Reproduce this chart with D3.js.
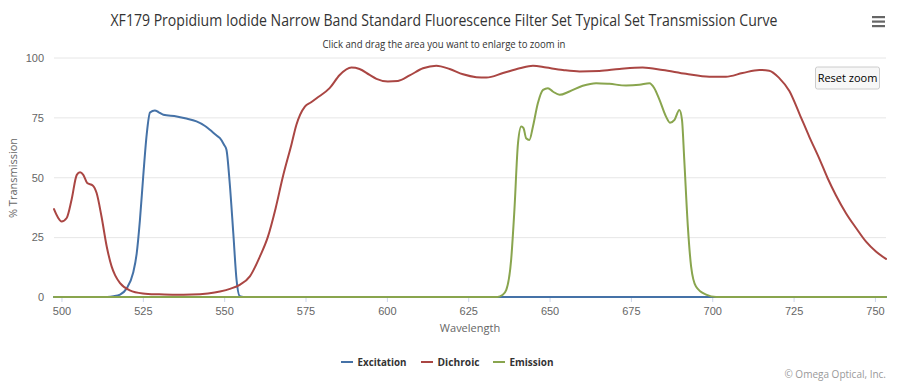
<!DOCTYPE html>
<html>
<head>
<meta charset="utf-8">
<script src="https://cdn.jsdelivr.net/npm/d3@7"></script>
<style>
  html, body { margin: 0; padding: 0; background: #fff; }
  svg { display: block; font-family: "Open Sans", "DejaVu Sans", sans-serif; }
</style>
</head>
<body>
<svg id="chart" width="909" height="382"></svg>
<script>
// ---- data ----
const xTicks = [500, 525, 550, 575, 600, 625, 650, 675, 700, 725, 750];
const yTicks = [0, 25, 50, 75, 100];
const seriesNames = ["Excitation", "Dichroic", "Emission"];
const seriesColors = ["#4572A7", "#AA4643", "#89A54E"];

const excitationNm = [497.7, 510, 514, 516, 518, 520, 522, 523.1, 524.1, 525.1, 526.2, 527.2, 528.7, 529.8, 531.3, 535.4, 538, 541.5, 544, 545.6, 547.5, 548.7, 550, 550.7, 551.7, 552.8, 553.8, 554.8, 556, 753.4];
const excitationT  = [0, 0, 0.05, 0.3, 1, 3.5, 10, 18, 32, 50, 68, 77, 77.9, 77.2, 76.1, 75.4, 74.6, 73.3, 71.5, 69.8, 67.6, 66.3, 63.5, 61.5, 47.6, 26.7, 7.2, 0.3, 0, 0];

const dichroicNm = [497.7, 499, 500, 501.6, 503.1, 504.7, 505.7, 506.7, 507.9, 509.6, 510.8, 512.3, 513.9, 515.4, 516.5, 518, 521, 525, 530, 535, 540, 545, 548.7, 552, 554.8, 557.9, 561, 563.4, 565.8, 568, 570.7, 572.2, 574.8, 576.6, 578.4, 582.4, 585.5, 589.1, 591.6, 594.7, 596.8, 600.3, 603.4, 607, 611.1, 615.2, 619.3, 623.4, 627.5, 630.6, 635.7, 640.8, 644.9, 649, 654.1, 659.2, 665.3, 671.5, 678.6, 684.8, 691.9, 699.1, 704.2, 709.3, 714.5, 717.5, 720.6, 723.7, 726.8, 729.8, 732.9, 735.4, 738, 741.1, 744.2, 747.2, 750.3, 753.4];
const dichroicT  = [36.7, 33, 31.5, 33, 40.6, 51, 52.1, 51, 47.6, 46.6, 43.4, 33.6, 21.1, 12.8, 9, 5.8, 2.8, 1.5, 1.1, 0.9, 1.0, 1.5, 2.3, 3.5, 5.1, 8.6, 17, 25, 37, 50, 63.8, 71.9, 79.5, 81.2, 83, 87.2, 92.7, 95.8, 95.2, 92.7, 91.1, 90, 90.2, 92.5, 95.5, 96.6, 95.2, 93, 91.8, 91.6, 93.5, 95.5, 96.6, 95.8, 94.8, 94.2, 94.4, 95.2, 95.8, 94.8, 93.2, 92, 92, 93.5, 94.8, 94.5, 91.4, 86, 76.5, 67, 57.8, 49.8, 42.5, 35, 28.8, 23.2, 19, 15.9];

const emissionNm = [497.7, 634, 635.5, 636.7, 638.2, 639.2, 640.3, 641.3, 642, 642.8, 643.8, 644.9, 646.4, 648, 649.5, 651, 653.1, 656.1, 660.2, 664.3, 668.4, 673.5, 677.6, 680.7, 682.2, 683.8, 685.8, 687, 688.4, 689.9, 690.7, 691.4, 692.5, 693.5, 695, 698.1, 701.2, 753.4];
const emissionT  = [0, 0, 0.8, 3, 15.6, 36.4, 64.2, 71.2, 70.5, 66.3, 65.6, 71.2, 80.9, 86.5, 87.2, 85.8, 84.4, 85.8, 88.2, 89.3, 89, 88.3, 88.6, 89.3, 87.2, 82.3, 75.3, 72.8, 74, 78.1, 74, 57.3, 29.5, 12.8, 4.4, 1, 0, 0];

const titleText = "XF179 Propidium Iodide Narrow Band Standard Fluorescence Filter Set Typical Set Transmission Curve";
const subtitleText = "Click and drag the area you want to enlarge to zoom in";
const xTitle = "Wavelength";
const yTitle = "% Transmission";
const creditText = "© Omega Optical, Inc.";

// ---- layout ----
const svg = d3.select("#chart");
const plot = { left: 54, right: 886, top: 57.5, bottom: 297 };
const x = d3.scaleLinear().domain([497.7, 753.4]).range([plot.left, plot.right]);
const y = d3.scaleLinear().domain([0, 100]).range([plot.bottom, plot.top]);

// title
svg.append("text").attr("x", 444).attr("y", 26).attr("text-anchor", "middle")
  .attr("font-family", "'Liberation Sans Narrow', 'Open Sans', sans-serif")
  .attr("font-size", 16.5).attr("fill", "#333333")
  .attr("textLength", 667).attr("lengthAdjust", "spacingAndGlyphs")
  .text(titleText);
svg.append("text").attr("x", 444).attr("y", 48).attr("text-anchor", "middle")
  .attr("font-family", "'Liberation Sans Narrow', 'Open Sans', sans-serif")
  .attr("font-size", 11).attr("fill", "#333333")
  .attr("textLength", 243).attr("lengthAdjust", "spacingAndGlyphs")
  .text(subtitleText);

// hamburger
[17, 21.5, 26].forEach(yy => {
  svg.append("rect").attr("x", 872).attr("y", yy - 1).attr("width", 13).attr("height", 2.2).attr("fill", "#666666");
});

// gridlines
const yAxis = d3.axisLeft(y).tickValues(yTicks).tickSize(-(plot.right - plot.left)).tickPadding(10);
const gy = svg.append("g").attr("transform", `translate(${plot.left},0)`).call(yAxis);
gy.select(".domain").remove();
gy.selectAll(".tick line").attr("stroke", "#e6e6e6").attr("stroke-width", 1);
gy.selectAll(".tick text").attr("fill", "#666666").attr("font-size", 11).attr("x", -10).attr("dy", "0.35em");

// x axis
const xAxis = d3.axisBottom(x).tickValues(xTicks).tickSize(5).tickPadding(5).tickSizeOuter(0);
const gx = svg.append("g").attr("transform", `translate(0,${plot.bottom})`).call(xAxis);
gx.select(".domain").attr("stroke", "#ccd6eb");
gx.selectAll(".tick line").attr("stroke", "#ccd6eb");
gx.selectAll(".tick text").attr("fill", "#666666").attr("font-size", 11);

// axis titles
svg.append("text").attr("x", (plot.left + plot.right) / 2).attr("y", 332).attr("text-anchor", "middle")
  .attr("fill", "#666666").attr("font-size", 11).text(xTitle);
svg.append("text").attr("transform", `translate(17,178) rotate(-90)`).attr("text-anchor", "middle")
  .attr("fill", "#666666").attr("font-size", 11).text(yTitle);

// series
const allSeries = [
  { nm: excitationNm, t: excitationT },
  { nm: dichroicNm, t: dichroicT },
  { nm: emissionNm, t: emissionT }
];
const line = d3.line().x(d => x(d[0])).y(d => y(d[1])).curve(d3.curveMonotoneX);
const g = svg.append("g");
allSeries.forEach((s, i) => {
  const pts = s.nm.map((v, j) => [v, s.t[j]]);
  g.append("path").attr("d", line(pts)).attr("fill", "none")
    .attr("stroke", seriesColors[i]).attr("stroke-width", 2)
    .attr("stroke-linejoin", "round").attr("stroke-linecap", "round");
});

// reset zoom button
const btn = svg.append("g").attr("transform", "translate(815.5,67)");
btn.append("rect").attr("width", 64).attr("height", 22).attr("rx", 2)
  .attr("fill", "#f7f7f7").attr("stroke", "#cccccc").attr("stroke-width", 1);
btn.append("text").attr("x", 32).attr("y", 15).attr("text-anchor", "middle")
  .attr("font-size", 11).attr("fill", "#000000").text("Reset zoom");

// legend
const legendX = [341, 421, 493];
const legendTextW = [49, 42, 44];
seriesNames.forEach((name, i) => {
  const lg = svg.append("g").attr("transform", `translate(${legendX[i]},362)`);
  lg.append("line").attr("x1", 0).attr("x2", 12).attr("y1", 0).attr("y2", 0)
    .attr("stroke", seriesColors[i]).attr("stroke-width", 2);
  lg.append("text").attr("x", 16.5).attr("y", 4).attr("font-size", 11).attr("font-weight", "bold")
    .attr("fill", "#333333").attr("textLength", legendTextW[i]).attr("lengthAdjust", "spacingAndGlyphs")
    .text(name);
});

// credit
svg.append("text").attr("x", 886).attr("y", 378).attr("text-anchor", "end")
  .attr("font-size", 10).attr("fill", "#999999").text(creditText);
</script>
</body>
</html>
